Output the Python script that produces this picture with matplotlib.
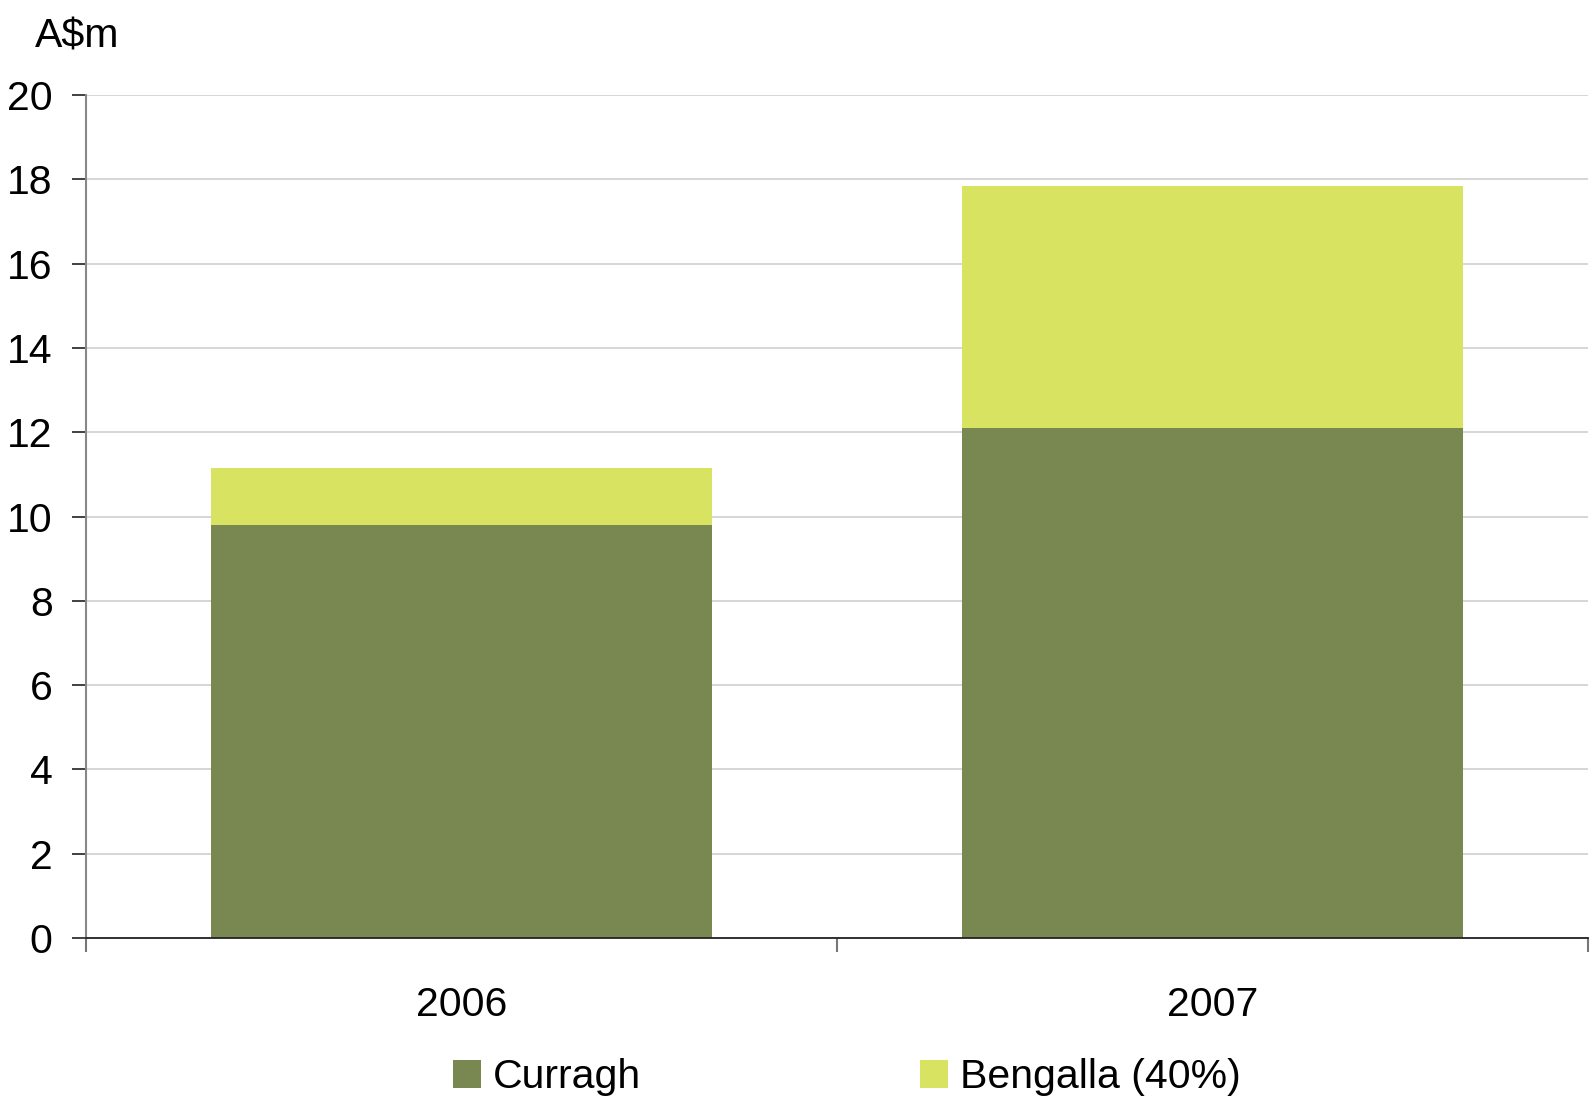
import matplotlib
matplotlib.use("Agg")
import matplotlib.pyplot as plt
from matplotlib.patches import Patch

years = ["2006", "2007"]
curragh = [9.8, 12.1]
bengalla = [1.35, 5.75]
series_labels = ["Curragh", "Bengalla (40%)"]
y_ticks = [0, 2, 4, 6, 8, 10, 12, 14, 16, 18, 20]

dark_green = "#798850"
light_green = "#D7E361"
grid_color = "#CFCFCF"

plt.rcParams["font.family"] = ["Liberation Sans", "DejaVu Sans"]
FS = 29.5

fig = plt.figure(figsize=(15.9, 11.06), dpi=100)
ax = fig.add_axes([0.054, 0.152, 0.9446, 0.762])

x = list(range(len(years)))
ax.bar(x, curragh, width=0.667, color=dark_green, zorder=3)
ax.bar(x, bengalla, width=0.667, bottom=curragh, color=light_green, zorder=3)

ax.set_xlim(-0.5, len(years) - 0.5)
ax.set_ylim(0, 20)
ax.set_yticks(y_ticks)
ax.tick_params(axis="y", labelsize=FS, length=10, width=1.3, color="#333333", pad=14)
ax.yaxis.grid(True, color=grid_color, linewidth=1.2, zorder=0)

# category boundaries carry the tick marks, labels sit at the centres
ax.set_xticks([i - 0.5 for i in range(len(years) + 1)])
ax.set_xticklabels([])
ax.tick_params(axis="x", which="major", length=10, width=1.5, color="#777777", direction="out")
ax.set_xticks(x, minor=True)
ax.set_xticklabels(years, minor=True)
ax.tick_params(axis="x", which="minor", length=0, labelsize=FS, pad=35)

for side in ("top", "right"):
    ax.spines[side].set_visible(False)
ax.spines["left"].set_color("#888888")
ax.spines["left"].set_linewidth(1.5)
ax.spines["left"].set_bounds(0, 20)
ax.spines["bottom"].set_color("#222222")
ax.spines["bottom"].set_linewidth(1.3)
ax.spines["bottom"].set_zorder(5)

fig.text(0.022, 0.984, "A$m", fontsize=FS, ha="left", va="top")

handles = [Patch(facecolor=dark_green), Patch(facecolor=light_green)]
fig.legend(handles, series_labels, loc="center", bbox_to_anchor=(0.5325, 0.026),
           ncol=2, frameon=False, fontsize=FS, handlelength=0.68, handleheight=0.68,
           handletextpad=0.3, columnspacing=6.8, borderpad=0, borderaxespad=0)

fig.savefig("out.png", dpi=100)
